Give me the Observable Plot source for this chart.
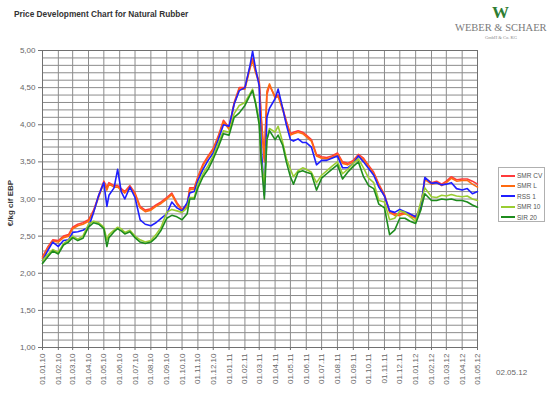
<!DOCTYPE html>
<html><head><meta charset="utf-8">
<script src="https://cdn.jsdelivr.net/npm/d3@7"></script>
<script src="https://cdn.jsdelivr.net/npm/@observablehq/plot@0.6"></script>
<style>
body{margin:0;background:#fff;}
#wrap{position:relative;width:550px;height:393px;font-family:"Liberation Sans",Arial,sans-serif;overflow:hidden;}
.abs{position:absolute;white-space:nowrap;}
</style></head><body>
<div id="wrap"></div>
<script>
const dates = ["2010-01-01","2010-01-11","2010-01-21","2010-02-01","2010-02-11","2010-02-21","2010-03-01","2010-03-11","2010-03-21","2010-04-01","2010-04-11","2010-04-21","2010-05-01","2010-05-07","2010-05-11","2010-05-21","2010-05-28","2010-06-04","2010-06-11","2010-06-21","2010-07-01","2010-07-11","2010-07-21","2010-08-01","2010-08-11","2010-08-21","2010-09-01","2010-09-11","2010-09-21","2010-10-01","2010-10-11","2010-10-16","2010-10-25","2010-11-01","2010-11-11","2010-11-21","2010-12-01","2010-12-11","2010-12-21","2011-01-01","2011-01-11","2011-01-21","2011-02-01","2011-02-11","2011-02-16","2011-02-22","2011-03-01","2011-03-05","2011-03-11","2011-03-16","2011-03-21","2011-04-01","2011-04-07","2011-04-16","2011-04-23","2011-05-01","2011-05-07","2011-05-16","2011-05-25","2011-06-01","2011-06-11","2011-06-21","2011-07-01","2011-07-11","2011-07-21","2011-08-01","2011-08-11","2011-08-21","2011-09-01","2011-09-11","2011-09-21","2011-10-01","2011-10-11","2011-10-21","2011-11-01","2011-11-11","2011-11-21","2011-12-01","2011-12-11","2011-12-21","2012-01-01","2012-01-11","2012-01-19","2012-02-01","2012-02-11","2012-02-21","2012-03-01","2012-03-11","2012-03-21","2012-04-01","2012-04-11","2012-04-21","2012-05-01"];
const smrCV = [2.22,2.35,2.45,2.44,2.50,2.52,2.62,2.66,2.68,2.72,2.85,3.05,3.24,3.15,3.22,3.18,3.18,3.14,3.10,3.18,3.08,2.90,2.85,2.87,2.92,2.96,3.02,3.08,2.95,2.86,2.92,3.15,3.15,3.30,3.47,3.58,3.68,3.85,4.06,3.96,4.30,4.50,4.50,4.78,4.89,4.72,4.58,4.10,3.55,4.40,4.53,4.38,4.40,4.22,4.05,3.88,3.90,3.92,3.90,3.86,3.80,3.60,3.57,3.56,3.58,3.62,3.50,3.48,3.52,3.60,3.55,3.45,3.36,3.20,3.06,2.84,2.80,2.80,2.82,2.79,2.76,2.88,3.28,3.22,3.24,3.20,3.24,3.30,3.26,3.27,3.27,3.24,3.20];
const smrL = [2.20,2.33,2.43,2.42,2.48,2.50,2.60,2.64,2.66,2.70,2.83,3.03,3.22,3.12,3.20,3.16,3.16,3.12,3.08,3.16,3.06,2.88,2.83,2.85,2.90,2.94,3.00,3.06,2.93,2.84,2.90,3.13,3.13,3.28,3.45,3.56,3.66,3.83,4.04,3.94,4.28,4.48,4.48,4.76,4.86,4.70,4.56,4.05,3.50,4.45,4.55,4.36,4.38,4.20,4.03,3.86,3.88,3.90,3.88,3.84,3.78,3.58,3.55,3.54,3.56,3.60,3.48,3.46,3.50,3.58,3.53,3.43,3.34,3.18,3.04,2.82,2.78,2.78,2.80,2.77,2.74,2.86,3.26,3.20,3.22,3.18,3.22,3.28,3.24,3.25,3.25,3.20,3.16];
const rss1 = [2.17,2.30,2.42,2.36,2.44,2.45,2.55,2.56,2.58,2.62,2.82,3.05,3.22,2.90,3.05,3.15,3.40,3.10,3.00,3.16,3.02,2.72,2.66,2.64,2.68,2.74,2.80,2.96,2.88,2.84,2.95,3.08,3.10,3.25,3.40,3.52,3.62,3.80,4.00,3.98,4.28,4.46,4.50,4.80,4.99,4.75,4.52,3.70,3.05,4.10,4.22,4.35,4.48,4.22,4.00,3.80,3.78,3.81,3.76,3.76,3.70,3.46,3.52,3.52,3.55,3.58,3.42,3.42,3.48,3.58,3.50,3.41,3.32,3.16,3.04,2.84,2.82,2.86,2.83,2.80,2.76,2.88,3.29,3.21,3.22,3.19,3.20,3.22,3.14,3.12,3.14,3.07,3.10];
const smr10 = [2.17,2.25,2.32,2.28,2.40,2.45,2.50,2.46,2.50,2.66,2.70,2.68,2.62,2.45,2.52,2.58,2.62,2.60,2.55,2.58,2.50,2.45,2.42,2.44,2.52,2.62,2.82,2.86,2.84,2.82,2.88,3.02,3.02,3.20,3.34,3.45,3.58,3.75,3.92,3.90,4.15,4.26,4.30,4.42,4.48,4.30,4.05,3.50,3.20,3.80,3.95,3.90,3.98,3.76,3.55,3.40,3.30,3.38,3.42,3.40,3.36,3.22,3.32,3.38,3.44,3.50,3.34,3.40,3.48,3.54,3.42,3.28,3.22,2.98,2.96,2.72,2.74,2.84,2.82,2.76,2.70,2.96,3.15,3.03,3.02,3.05,3.04,3.06,3.04,3.03,3.04,3.00,2.98];
const sir20 = [2.13,2.22,2.30,2.26,2.38,2.42,2.48,2.44,2.47,2.62,2.68,2.66,2.60,2.36,2.48,2.56,2.60,2.57,2.53,2.56,2.48,2.42,2.40,2.42,2.48,2.58,2.74,2.78,2.76,2.72,2.80,3.00,3.00,3.15,3.30,3.40,3.54,3.70,3.88,3.86,4.10,4.16,4.26,4.40,4.46,4.28,4.00,3.50,3.00,3.80,3.92,3.80,3.86,3.72,3.50,3.30,3.20,3.36,3.38,3.36,3.34,3.12,3.28,3.34,3.40,3.46,3.27,3.36,3.44,3.50,3.30,3.18,3.14,2.93,2.88,2.52,2.58,2.74,2.74,2.70,2.67,2.85,3.07,2.98,2.98,3.00,2.99,3.00,2.98,2.98,2.96,2.92,2.89];
const seriesNames = ["SMR CV","SMR L","RSS 1","SMR 10","SIR 20"];
const seriesColors = ["#ff3b3b","#ff6a10","#1f1fff","#9acd32","#1e8c1e"];
const seriesValues = [smrCV, smrL, rss1, smr10, sir20];
const yTickValues = [1,1.5,2,2.5,3,3.5,4,4.5,5];
const monthTicks = d3.utcMonth.range(new Date("2010-01-01"), new Date("2012-05-02"));
const gridYValues = d3.range(10, 51).map(v => v / 10);
const stampDate = "02.05.12";

const parsed = dates.map(d => new Date(d + "T00:00:00Z"));
const table = [];
seriesNames.forEach((name, i) => {
  parsed.forEach((d, j) => table.push({date: d, value: seriesValues[i][j], series: name}));
});

const marks = [
  Plot.gridY(gridYValues, {stroke: "#8c8c8c", strokeOpacity: 1, strokeWidth: 1}),
  Plot.gridX(monthTicks, {stroke: "#8c8c8c", strokeOpacity: 1, strokeWidth: 1}),
  Plot.frame({stroke: "#707070"}),
  Plot.axisY(yTickValues, {tickFormat: d => d.toFixed(2).replace(".", ","), tickSize: 4, tickPadding: 3, fontSize: 8, fill: "#666", stroke: "#707070", label: null}),
  Plot.axisX(monthTicks, {tickFormat: d3.utcFormat("%d.%m.%y"), tickRotate: -90, tickSize: 3, tickPadding: 3, fontSize: 8, fill: "#666", stroke: "#707070", label: null})
];
seriesNames.forEach((name, i) => {
  marks.push(Plot.line(table.filter(r => r.series === name), {x: "date", y: "value", stroke: seriesColors[i], strokeWidth: 1.6}));
});

const chart = Plot.plot({
  width: 550, height: 393,
  marginLeft: 42, marginRight: 73, marginTop: 50, marginBottom: 46,
  x: {type: "utc", domain: [new Date("2010-01-01"), new Date("2012-05-01")]},
  y: {domain: [1, 5]},
  style: {fontFamily: "'Liberation Sans', Arial, sans-serif", background: "#fff"},
  marks
});
const wrap = document.getElementById("wrap");
wrap.appendChild(chart);

function addText(txt, css) {
  const el = document.createElement("div");
  el.className = "abs";
  el.textContent = txt;
  el.style.cssText += css;
  wrap.appendChild(el);
  return el;
}
addText("Price Development Chart for Natural Rubber", "left:14px;top:9px;font-size:8.3px;font-weight:bold;color:#333;");
addText("€/kg cif EBP", "left:10px;top:203px;font-size:8px;font-weight:bold;color:#333;transform:translate(-50%,-50%) rotate(-90deg);");
addText(stampDate, "left:496px;top:368px;font-size:8px;color:#666;");
// logo
addText("W", "left:492px;top:3px;font-size:17px;font-weight:bold;color:#2e7d32;font-family:'Liberation Serif',serif;letter-spacing:-1px;");
addText("WEBER & SCHAER", "left:455px;top:22px;font-size:10.5px;color:#7a7a7a;font-family:'Liberation Serif',serif;");
addText("GmbH & Co. KG", "left:485px;top:35px;font-size:4.5px;color:#888;font-family:'Liberation Serif',serif;");

// legend
const leg = document.createElement("div");
leg.className = "abs";
leg.style.cssText = "left:498px;top:167px;width:47px;height:55px;border:1px solid #b0b0b0;background:#fff;box-sizing:border-box;";
wrap.appendChild(leg);
seriesNames.forEach((name, i) => {
  const row = document.createElement("div");
  row.className = "abs";
  row.style.cssText = `left:2px;top:${3 + i * 10.4}px;height:9px;display:flex;align-items:center;font-size:6.5px;color:#555;`;
  const sw = document.createElement("span");
  sw.style.cssText = `display:inline-block;width:14px;height:2px;background:${seriesColors[i]};margin-right:2px;`;
  row.appendChild(sw);
  row.appendChild(document.createTextNode(name));
  leg.appendChild(row);
});
</script>
</body></html>
